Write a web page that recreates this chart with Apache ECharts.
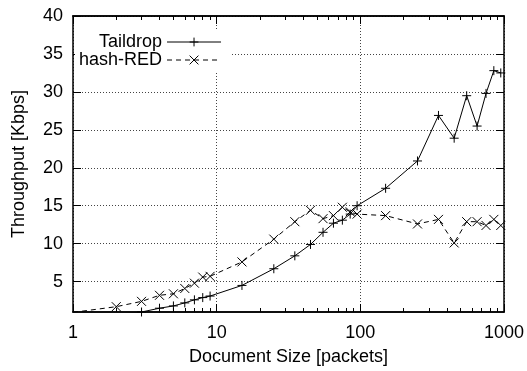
<!DOCTYPE html>
<html>
<head>
<meta charset="utf-8">
<script src="https://cdn.jsdelivr.net/npm/echarts@6/dist/echarts.min.js"></script>
<style>
  html, body { margin: 0; padding: 0; background: #fff; }
  #chart { width: 527px; height: 371px; }
</style>
</head>
<body>
<div id="chart"></div>
<script>
// document sizes (packets)
const docSizes = [1, 2, 3, 4, 5, 6, 7, 8, 9, 15, 25, 35, 45, 55, 65, 75, 85, 95,
  150, 250, 350, 450, 550, 650, 750, 850, 950];
// throughput (Kbps)
const taildrop = [0.3, 0.7, 1.0, 1.5, 1.8, 2.2, 2.6, 2.9, 3.1, 4.5, 6.7, 8.4, 9.9, 11.5,
  12.7, 13.1, 13.9, 15.0, 17.3, 20.9, 26.9, 23.9, 29.5, 25.5, 29.8, 32.8, 32.5];
const hashRed = [0.95, 1.7, 2.4, 3.2, 3.4, 4.1, 4.8, 5.6, 5.7, 7.6, 10.6, 12.9, 14.4, 13.3,
  13.7, 14.8, 14.2, 13.9, 13.7, 12.6, 13.2, 10.1, 12.9, 12.9, 12.4, 13.2, 12.4];

const xMajor = [1, 10, 100, 1000];
const xMinor = [2, 3, 4, 5, 6, 7, 8, 9, 20, 30, 40, 50, 60, 70, 80, 90,
  200, 300, 400, 500, 600, 700, 800, 900];
const yTicks = [5, 10, 15, 20, 25, 30, 35, 40];

const FONT = 'Liberation Sans';
const plusSym = 'path://M0,5L10,5M5,0L5,10';
const crossSym = 'path://M0,0L10,10M0,10L10,0';
const gridDot = { show: true, lineStyle: { color: '#444', width: 1, type: [1, 2] } };

function xAxis(pos, ticks, len, labels, grid) {
  return {
    type: 'log', logBase: 10, min: 1, max: 1000, position: pos, gridIndex: 0,
    axisLine: { show: true, lineStyle: { color: '#000', width: 1.5 } },
    axisTick: { show: true, inside: true, length: len, customValues: ticks,
      lineStyle: { color: '#000', width: 1 } },
    axisLabel: labels ? { show: true, customValues: xMajor, color: '#000',
      fontFamily: FONT, fontSize: 18, margin: 12, formatter: v => String(v) } : { show: false },
    splitLine: grid ? gridDot : { show: false },
    minorTick: { show: false }, minorSplitLine: { show: false },
    name: labels ? 'Document Size [packets]' : '',
    nameLocation: 'middle', nameGap: 36,
    nameTextStyle: { color: '#000', fontFamily: FONT, fontSize: 18 }
  };
}

function yAxis(pos, labels) {
  return {
    type: 'value', min: 1, max: 40, position: pos,
    axisLine: { show: true, lineStyle: { color: '#000', width: 1.5 } },
    axisTick: { show: true, inside: true, length: 8, customValues: yTicks,
      lineStyle: { color: '#000', width: 1 } },
    axisLabel: labels ? { show: true, customValues: yTicks, color: '#000',
      fontFamily: FONT, fontSize: 18, margin: 10 } : { show: false },
    splitLine: labels ? gridDot : { show: false },
    name: labels ? 'Throughput [Kbps]' : '',
    nameLocation: 'middle', nameGap: 45,
    nameTextStyle: { color: '#000', fontFamily: FONT, fontSize: 18 }
  };
}

function series(name, vals, sym, dashed) {
  return {
    name, type: 'line', xAxisIndex: 0, yAxisIndex: 0,
    data: docSizes.map((x, i) => [x, vals[i]]),
    symbol: sym, symbolSize: 9, showSymbol: true, clip: true,
    color: '#000',
    itemStyle: { color: 'transparent', borderColor: '#000', borderWidth: 1 },
    lineStyle: { color: '#000', width: 1, type: dashed ? [5, 4] : 'solid' },
    emphasis: { disabled: true }
  };
}

const chart = echarts.init(document.getElementById('chart'), null, { renderer: 'canvas' });
chart.setOption({
  animation: false,
  backgroundColor: '#fff',
  grid: { left: 73, right: 21, top: 16, bottom: 57 },
  xAxis: [
    xAxis('bottom', xMajor, 8, true, true),
    xAxis('bottom', xMinor, 4, false, false),
    xAxis('top', xMajor, 8, false, false),
    xAxis('top', xMinor, 4, false, false)
  ],
  yAxis: [yAxis('left', true), yAxis('right', false)],
  legend: {
    orient: 'vertical', align: 'right', left: 75, top: 31,
    itemWidth: 54, itemHeight: 11, itemGap: 0,
    backgroundColor: '#fff', padding: [2, 10, 4, 4],
    textStyle: { color: '#000', fontFamily: FONT, fontSize: 18, lineHeight: 18 },
    itemStyle: { color: 'transparent', borderColor: '#000', borderWidth: 1 },
    lineStyle: { width: 1 },
    data: ['Taildrop', 'hash-RED']
  },
  series: [
    series('Taildrop', taildrop, plusSym, false),
    series('hash-RED', hashRed, crossSym, true)
  ]
});
</script>
</body>
</html>
